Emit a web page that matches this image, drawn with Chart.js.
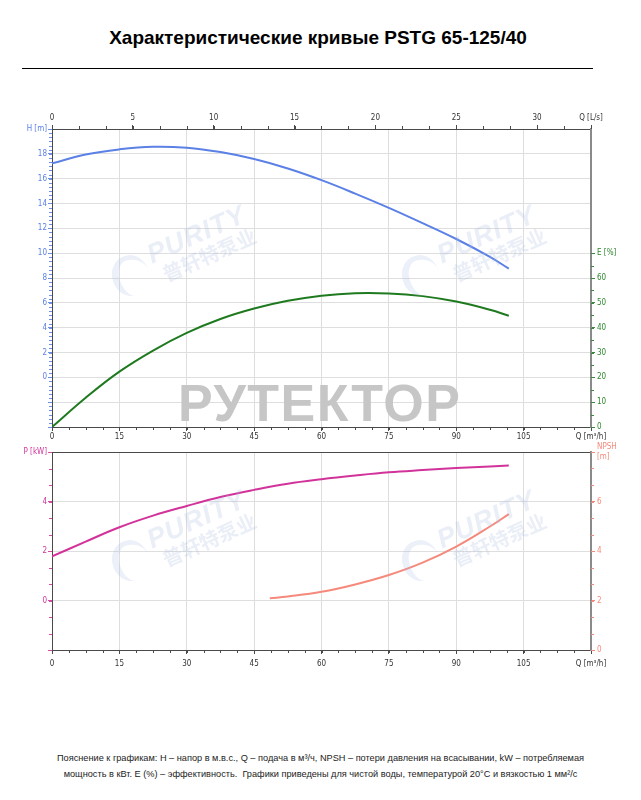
<!DOCTYPE html>
<html lang="ru">
<head>
    <meta charset="UTF-8">
    <title>Характеристические кривые PSTG 65-125/40</title>
    <script src="https://cdn.jsdelivr.net/npm/chart.js"></script>
    <style>
        body {
            margin: 0;
            width: 641px;
            height: 800px;
            background: #fff;
            position: relative;
            overflow: hidden;
            font-family: 'Liberation Sans', Arial, sans-serif;
        }
        .title {
            position: absolute;
            top: 27px;
            left: 0;
            width: 636px;
            text-align: center;
            font-size: 19px;
            font-weight: bold;
            color: #000;
        }
        .rule {
            position: absolute;
            top: 68px;
            left: 22px;
            width: 571px;
            border-top: 1px solid #000;
        }
        .chart-box {
            position: absolute;
            left: 0;
            width: 641px;
        }
        #top-box { top: 100px; height: 345px; }
        #bottom-box { top: 440px; height: 240px; }
        .brand {
            position: absolute;
            left: 178px;
            top: 373px;
            font-size: 52px;
            font-weight: bold;
            color: #c6c6c6;
            letter-spacing: 1.5px;
            pointer-events: none;
        }
        .purity {
            position: absolute;
            color: rgba(170, 188, 225, 0.25);
            font-weight: bold;
            font-style: italic;
            transform: rotate(-24deg);
            pointer-events: none;
            line-height: 1;
        }
        .purity span { display: block; }
        .purity .en { font-size: 27px; letter-spacing: 1px; }
        .purity .cn { font-size: 20px; font-style: normal; font-family: 'Noto Sans CJK SC', sans-serif; margin-left: 6px; }
        .swirl {
            position: absolute;
            width: 30px;
            height: 36px;
            border-radius: 50%;
            border-left: 7px solid rgba(170, 188, 225, 0.22);
            border-top: 5px solid rgba(170, 188, 225, 0.22);
            transform: rotate(-15deg);
            pointer-events: none;
        }
        .note {
            position: absolute;
            top: 750px;
            left: 0;
            width: 641px;
            text-align: center;
            font-size: 9.2px;
            line-height: 16px;
            color: #222;
        }
    </style>
</head>
<body>
    <div class="title">Характеристические кривые PSTG 65-125/40</div>
    <div class="rule"></div>

    <div class="chart-box" id="top-box"><canvas id="topChart"></canvas></div>
    <div class="chart-box" id="bottom-box"><canvas id="bottomChart"></canvas></div>

    <div class="swirl" style="left:112px; top:255px;"></div>
    <div class="swirl" style="left:402px; top:255px;"></div>
    <div class="swirl" style="left:112px; top:540px;"></div>
    <div class="swirl" style="left:402px; top:540px;"></div>
    <div class="purity" style="left:148px; top:220px;"><span class="en">PURITY</span><span class="cn">普轩特泵业</span></div>
    <div class="purity" style="left:438px; top:220px;"><span class="en">PURITY</span><span class="cn">普轩特泵业</span></div>
    <div class="purity" style="left:148px; top:505px;"><span class="en">PURITY</span><span class="cn">普轩特泵业</span></div>
    <div class="purity" style="left:438px; top:505px;"><span class="en">PURITY</span><span class="cn">普轩特泵业</span></div>
    <div class="brand">РУТЕКТОР</div>

    <div class="note">
        Пояснение к графикам: H – напор в м.в.с., Q – подача в м³/ч, NPSH – потери давления на всасывании, kW – потребляемая<br>
        мощность в кВт. E (%) – эффективность.&nbsp; Графики приведены для чистой воды, температурой 20°C и вязкостью 1 мм²/с
    </div>

    <script>
        // Данные (Q в м³/ч)
        const qFlow = [0, 7.5, 15, 22.5, 30, 37.5, 45, 52.5, 60, 67.5, 75, 82.5, 90, 97.5, 101.7];
        const headH = [17.23, 17.95, 18.36, 18.57, 18.49, 18.14, 17.58, 16.82, 15.88, 14.8, 13.65, 12.42, 11.14, 9.7, 8.75];
        const effE = [0, 11.8, 22.3, 30.8, 37.9, 43.5, 47.7, 50.8, 52.9, 53.9, 53.8, 52.7, 50.5, 47.2, 44.8];
        const powerP = [1.78, 2.38, 2.96, 3.43, 3.82, 4.18, 4.47, 4.72, 4.9, 5.05, 5.18, 5.27, 5.35, 5.41, 5.45];
        const npshQ = [48.5, 52.5, 60, 67.5, 75, 82.5, 90, 97.5, 101.7];
        const npshVal = [2.09, 2.16, 2.35, 2.65, 3.03, 3.53, 4.18, 4.99, 5.49];

        // Деления осей
        const qTicks = [0, 15, 30, 45, 60, 75, 90, 105, 120];
        const qLabels = ['0', '15', '30', '45', '60', '75', '90', '105', 'Q [m³/h]'];
        const lsTicks = [0, 5, 10, 15, 20, 25, 30, 120 / 3.6];
        const lsLabels = ['0', '5', '10', '15', '20', '25', '30', 'Q [L/s]'];
        const hTicks = [-4, -2, 0, 2, 4, 6, 8, 10, 12, 14, 16, 18, 20];
        const hLabels = ['', '', '0', '2', '4', '6', '8', '10', '12', '14', '16', '18', 'H [m]'];
        const eTicks = [0, 10, 20, 30, 40, 50, 60, 70];
        const eLabels = ['0', '10', '20', '30', '40', '50', '60', 'E [%]'];
        const pTicks = [-2, 0, 2, 4, 6];
        const pLabels = ['', '0', '2', '4', 'P [kW]'];
        const nTicks = [0, 2, 4, 6, 8];
        const nLabels = ['0', '2', '4', '6', ['NPSH', '[m]']];

        const tickFont = { family: "'Liberation Sans Narrow', 'DejaVu Sans Condensed', sans-serif", size: 8 };
        const gridColor = '#dedede';
        const axisDark = '#4a4a4a';

        const toPoints = (xs, ys) => xs.map((x, i) => ({ x: x, y: ys[i] }));
        const setTicks = (values) => (scale) => { scale.ticks = values.map(v => ({ value: v })); };

        // мелкие засечки по шкалам
        const minorTicks = {
            id: 'minorTicks',
            afterDraw(chart, args, opts) {
                const ctx = chart.ctx;
                const area = chart.chartArea;
                ctx.save();
                ctx.lineWidth = 1;
                Object.keys(opts).forEach(id => {
                    const m = opts[id];
                    if (!m || !m.step) return;
                    const scale = chart.scales[id];
                    ctx.strokeStyle = m.color || axisDark;
                    ctx.beginPath();
                    for (let v = m.from; v <= m.to + 1e-6; v += m.step) {
                        const p = Math.round(scale.getPixelForValue(v)) + 0.5;
                        if (m.side === 'bottom') { ctx.moveTo(p, area.bottom); ctx.lineTo(p, area.bottom + 3); }
                        if (m.side === 'top') { ctx.moveTo(p, area.top); ctx.lineTo(p, area.top - 3); }
                        if (m.side === 'left') { ctx.moveTo(area.left - 3, p); ctx.lineTo(area.left, p); }
                        if (m.side === 'right') { ctx.moveTo(area.right, p); ctx.lineTo(area.right + 3, p); }
                    }
                    ctx.stroke();
                });
                ctx.restore();
            }
        };

        function qAxis(height, pad) {
            return {
                type: 'linear', position: 'bottom', min: 0, max: 120,
                afterBuildTicks: setTicks(qTicks),
                afterFit: (s) => { s.height = height; },
                grid: { color: gridColor, tickColor: axisDark, tickLength: 4 },
                border: { color: axisDark, width: 1 },
                ticks: { font: tickFont, color: '#333', padding: pad, autoSkip: false, maxRotation: 0,
                         callback: (v, i) => qLabels[i] }
            };
        }

        const lineDefaults = { pointRadius: 0, borderWidth: 2, fill: false, tension: 0.4 };

        new Chart(document.getElementById('topChart'), {
            type: 'line',
            data: {
                datasets: [
                    Object.assign({ label: 'H', data: toPoints(qFlow, headH), borderColor: '#5b80e6', yAxisID: 'y' }, lineDefaults),
                    Object.assign({ label: 'E', data: toPoints(qFlow, effE), borderColor: '#1f7a1f', yAxisID: 'y2' }, lineDefaults)
                ]
            },
            options: {
                responsive: true,
                maintainAspectRatio: false,
                animation: false,
                layout: { padding: 0 },
                plugins: {
                    legend: { display: false },
                    tooltip: { enabled: false },
                    minorTicks: {
                        x: { side: 'bottom', from: 0, to: 120, step: 3.75 },
                        x2: { side: 'top', from: 0, to: 120 / 3.6, step: 5 / 3 },
                        y: { side: 'left', from: -4, to: 20, step: 1 / 3, color: '#6d8fe8' },
                        y2: { side: 'right', from: 0, to: 70, step: 5, color: '#3b8a3b' }
                    }
                },
                scales: {
                    x: qAxis(18, 1),
                    x2: {
                        type: 'linear', position: 'top', min: 0, max: 120 / 3.6,
                        afterBuildTicks: setTicks(lsTicks),
                        afterFit: (s) => { s.height = 29; },
                        grid: { drawOnChartArea: false, tickColor: axisDark, tickLength: 4 },
                        border: { color: axisDark, width: 1 },
                        ticks: { font: tickFont, color: '#333', padding: 2, autoSkip: false, maxRotation: 0,
                                 callback: (v, i) => lsLabels[i] }
                    },
                    y: {
                        type: 'linear', position: 'left', min: -4, max: 20,
                        afterBuildTicks: setTicks(hTicks),
                        afterFit: (s) => { s.width = 52; },
                        grid: { color: gridColor, tickColor: '#6d8fe8', tickLength: 4 },
                        border: { color: axisDark, width: 1 },
                        ticks: { font: tickFont, color: '#5b80e6', padding: 1, autoSkip: false,
                                 callback: (v, i) => hLabels[i] }
                    },
                    y2: {
                        type: 'linear', position: 'right', min: 0, max: 120,
                        afterBuildTicks: setTicks(eTicks),
                        afterFit: (s) => { s.width = 50; },
                        grid: { drawOnChartArea: false, tickColor: '#3b8a3b', tickLength: 4 },
                        border: { color: '#8a8a8a', width: 2 },
                        ticks: { font: tickFont, color: '#2f862f', padding: 2, autoSkip: false,
                                 callback: (v, i) => eLabels[i] }
                    }
                }
            },
            plugins: [minorTicks]
        });

        new Chart(document.getElementById('bottomChart'), {
            type: 'line',
            data: {
                datasets: [
                    Object.assign({ label: 'P', data: toPoints(qFlow, powerP), borderColor: '#d2339a', yAxisID: 'y' }, lineDefaults),
                    Object.assign({ label: 'NPSH', data: toPoints(npshQ, npshVal), borderColor: '#f58a7c', yAxisID: 'y2' }, lineDefaults)
                ]
            },
            options: {
                responsive: true,
                maintainAspectRatio: false,
                animation: false,
                layout: { padding: { top: 12 } },
                plugins: {
                    legend: { display: false },
                    tooltip: { enabled: false },
                    minorTicks: {
                        x: { side: 'bottom', from: 0, to: 120, step: 3.75 },
                        y: { side: 'left', from: -2, to: 6, step: 2 / 3, color: '#d94aa4' },
                        y2: { side: 'right', from: 0, to: 8, step: 2 / 3, color: '#f58a7c' }
                    }
                },
                scales: {
                    x: qAxis(30, 5),
                    x2: {
                        type: 'linear', position: 'top', min: 0, max: 120,
                        afterFit: (s) => { s.height = 0; },
                        grid: { drawOnChartArea: false, drawTicks: false },
                        border: { color: axisDark, width: 1 },
                        ticks: { display: false }
                    },
                    y: {
                        type: 'linear', position: 'left', min: -2, max: 6,
                        afterBuildTicks: setTicks(pTicks),
                        afterFit: (s) => { s.width = 52; },
                        grid: { color: gridColor, tickColor: '#d94aa4', tickLength: 4 },
                        border: { color: axisDark, width: 1 },
                        ticks: { font: tickFont, color: '#d2339a', padding: 1, autoSkip: false,
                                 callback: (v, i) => pLabels[i] }
                    },
                    y2: {
                        type: 'linear', position: 'right', min: 0, max: 8,
                        afterBuildTicks: setTicks(nTicks),
                        afterFit: (s) => { s.width = 50; },
                        grid: { drawOnChartArea: false, tickColor: '#f58a7c', tickLength: 4 },
                        border: { color: '#8a8a8a', width: 2 },
                        ticks: { font: tickFont, color: '#f58a7c', padding: 2, autoSkip: false,
                                 callback: (v, i) => nLabels[i] }
                    }
                }
            },
            plugins: [minorTicks]
        });
    </script>
</body>
</html>
